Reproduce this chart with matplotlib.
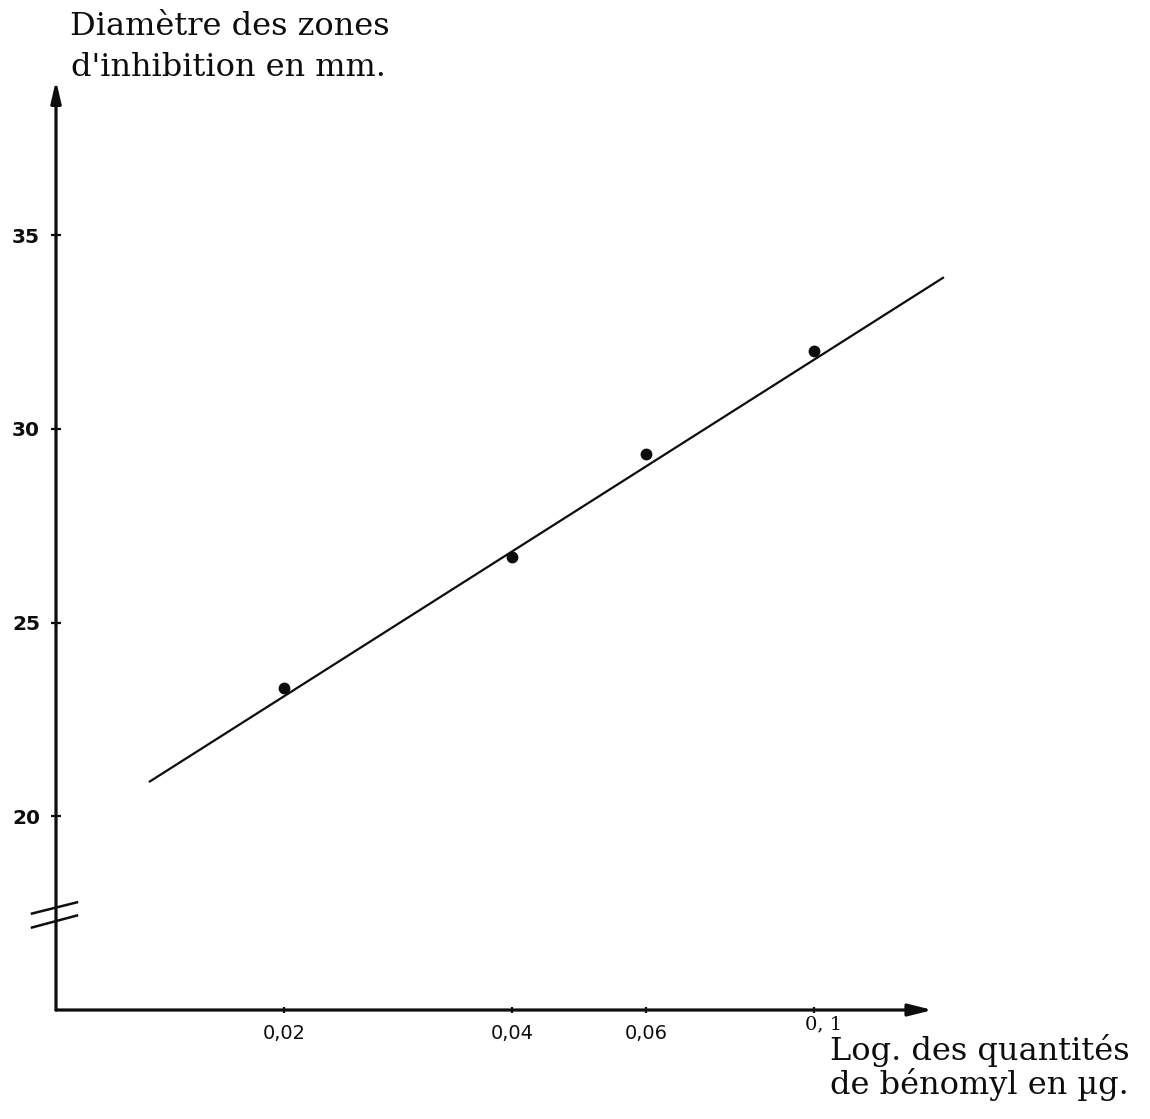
import matplotlib
matplotlib.use("Agg")
import matplotlib.pyplot as plt
from matplotlib.ticker import NullLocator

# bénomyl quantities (µg) and measured inhibition zone diameters (mm)
quantities = [0.02, 0.04, 0.06, 0.1]
diameters = [23.3, 26.7, 29.35, 32.0]

# regression line end points
line_x = [0.0133, 0.148]
line_y = [20.9, 33.9]

x_ticks = [0.02, 0.04, 0.06, 0.1]
x_tick_labels = ["0,02", "0,04", "0,06", "0, 1"]
y_ticks = [20, 25, 30, 35]
y_tick_labels = ["20", "25", "30", "35"]


def main():
    fig = plt.figure(figsize=(11.5, 11.19), dpi=100)
    fig.patch.set_facecolor("white")
    ax = fig.add_axes([0.0487, 0.0974, 0.7936, 0.8482])
    ax.set_xscale("log")
    ax.set_xlim(0.01, 0.16)
    ax.set_ylim(15, 39.5)
    for side in ax.spines:
        ax.spines[side].set_visible(False)

    ink = "#0d0d0d"

    # axes drawn as arrows
    ax.annotate("", xy=(0.01, 39.0), xytext=(0.01, 15.0),
                arrowprops=dict(arrowstyle="-|>,head_length=0.65,head_width=0.15",
                                mutation_scale=20, lw=2.3, color=ink,
                                shrinkA=0, shrinkB=0))
    ax.annotate("", xy=(0.1434, 15.0), xytext=(0.01, 15.0),
                arrowprops=dict(arrowstyle="-|>,head_length=0.72,head_width=0.18",
                                mutation_scale=20, lw=2.3, color=ink,
                                shrinkA=0, shrinkB=0))

    # axis break on the y axis
    yt = ax.get_yaxis_transform()
    ax.plot([-0.0263, 0.0230], [17.49, 17.78], color=ink, lw=1.8,
            transform=yt, clip_on=False)
    ax.plot([-0.0263, 0.0230], [17.13, 17.44], color=ink, lw=1.8,
            transform=yt, clip_on=False)

    ax.plot(line_x, line_y, color=ink, lw=1.6)
    ax.plot(quantities, diameters, "o", color=ink, markersize=7.5)

    ax.xaxis.set_minor_locator(NullLocator())
    # last x label is typed, not stencilled: drawn separately below
    ax.set_xticks(x_ticks, labels=x_tick_labels[:-1] + [""])
    ax.set_yticks(y_ticks, labels=y_tick_labels)
    ax.tick_params(axis="y", direction="inout", length=7.2, width=1.6,
                   color=ink, pad=8.0, labelsize=14.5)
    ax.tick_params(axis="x", direction="inout", length=5, width=1.6,
                   color=ink, pad=7.5, labelsize=14)
    for lab in ax.get_yticklabels():
        lab.set_fontweight("bold")
        lab.set_color(ink)
    for lab in ax.get_xticklabels():
        lab.set_color(ink)
    ax.annotate(x_tick_labels[-1], xy=(x_ticks[-1], 15), xytext=(7, -4),
                textcoords="offset points", ha="center", va="top",
                family="DejaVu Serif", fontsize=14, color=ink,
                annotation_clip=False)

    def px(x, y):
        return x / 1150, 1 - y / 1119

    serif = dict(family="DejaVu Serif", fontsize=23, color=ink, va="baseline")
    fig.text(*px(70, 35), "Diamètre des zones", **serif)
    fig.text(*px(71, 76), "d'inhibition en mm.", **serif)
    fig.text(*px(830, 1060), "Log. des quantités", **serif)
    fig.text(*px(830, 1094), "de bénomyl en µg.", **serif)

    fig.savefig("out.png", dpi=100)


if __name__ == "__main__":
    main()
